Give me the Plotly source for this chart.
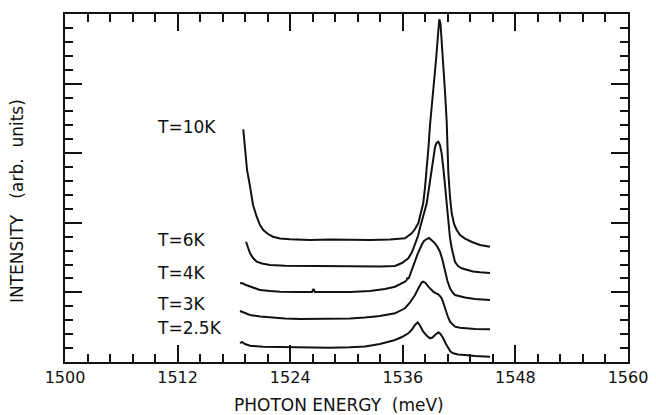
import plotly.graph_objects as go

# ---------------- data ----------------
e_10k = [1519.00, 1519.18, 1519.40, 1519.72, 1520.04, 1520.43, 1520.78, 1521.13, 1521.63, 1522.17,
         1522.91, 1523.98, 1526.11, 1528.24, 1530.37, 1532.50, 1534.64, 1535.70, 1536.23, 1536.95,
         1537.30, 1537.65, 1537.94, 1538.18, 1538.37, 1538.55, 1538.74, 1538.90, 1539.11, 1539.32,
         1539.54, 1539.75, 1539.89, 1540.02, 1540.18, 1540.34, 1540.50, 1540.68, 1540.76, 1540.85,
         1541.03, 1541.21, 1541.46, 1541.74, 1542.10, 1542.63, 1543.37, 1544.23, 1545.29]
i_10k = [3.343, 3.046, 2.759, 2.519, 2.256, 2.088, 1.968, 1.897, 1.839, 1.800,
         1.774, 1.763, 1.753, 1.760, 1.753, 1.753, 1.760, 1.767, 1.777, 1.849,
         1.911, 1.993, 2.141, 2.284, 2.514, 2.759, 3.089, 3.405, 3.693, 3.937,
         4.339, 4.698, 4.924, 4.856, 4.555, 4.195, 3.879, 3.448, 3.046, 2.730,
         2.371, 2.141, 1.983, 1.897, 1.825, 1.774, 1.724, 1.681, 1.657]

e_6k = [1519.29, 1519.50, 1519.72, 1520.04, 1520.43, 1520.99, 1521.85, 1523.45, 1525.04, 1528.24,
        1531.44, 1533.57, 1535.17, 1535.91, 1536.59, 1536.98, 1537.30, 1537.62, 1537.83, 1538.15,
        1538.55, 1538.79, 1539.08, 1539.27, 1539.43, 1539.59, 1539.79, 1539.96, 1540.14, 1540.34,
        1540.50, 1540.68, 1540.85, 1541.03, 1541.21, 1541.38, 1541.56, 1541.88, 1542.28, 1542.63,
        1543.48, 1544.23, 1545.29]
i_6k = [1.728, 1.638, 1.562, 1.494, 1.441, 1.415, 1.394, 1.382, 1.379, 1.372,
        1.372, 1.372, 1.379, 1.422, 1.490, 1.580, 1.695, 1.810, 1.925, 2.098,
        2.280, 2.500, 2.759, 2.960, 3.082, 3.147, 3.165, 3.118, 2.998, 2.759,
        2.519, 2.270, 2.040, 1.782, 1.638, 1.523, 1.441, 1.379, 1.346, 1.332,
        1.300, 1.289, 1.279]

e_4k = [1518.65, 1518.97, 1519.29, 1519.72, 1520.25, 1520.78, 1521.85, 1522.91, 1525.04, 1526.32,
        1526.48, 1526.64, 1528.24, 1530.37, 1532.50, 1534.10, 1535.17, 1535.91, 1536.23, 1536.39,
        1536.50, 1536.61, 1536.87, 1537.30, 1537.62, 1538.01, 1538.26, 1538.55, 1538.79, 1539.11,
        1539.43, 1539.70, 1539.96, 1540.23, 1540.50, 1540.76, 1541.03, 1541.30, 1541.56, 1542.10,
        1542.63, 1543.69, 1545.29]
i_4k = [1.135, 1.128, 1.106, 1.082, 1.056, 1.034, 1.020, 1.010, 1.006, 1.006,
        1.049, 1.006, 1.006, 1.006, 1.020, 1.049, 1.082, 1.128, 1.154, 1.171,
        1.214, 1.193, 1.293, 1.441, 1.566, 1.681, 1.739, 1.767, 1.782, 1.746,
        1.705, 1.652, 1.585, 1.466, 1.297, 1.164, 1.059, 0.999, 0.963, 0.941,
        0.927, 0.905, 0.891]

e_3k = [1518.65, 1519.18, 1519.72, 1520.78, 1521.85, 1523.45, 1525.04, 1528.24, 1530.37, 1531.97,
        1533.57, 1535.17, 1536.23, 1536.77, 1537.30, 1537.62, 1537.83, 1538.01, 1538.18, 1538.42,
        1538.72, 1539.00, 1539.25, 1539.54, 1539.79, 1539.96, 1540.14, 1540.31, 1540.50, 1540.76,
        1541.03, 1541.30, 1541.56, 1542.10, 1542.63, 1543.69, 1545.29]
i_3k = [0.733, 0.704, 0.675, 0.654, 0.642, 0.625, 0.618, 0.618, 0.625, 0.639,
        0.661, 0.700, 0.772, 0.855, 0.963, 1.049, 1.106, 1.142, 1.154, 1.135,
        1.082, 1.042, 1.010, 0.987, 0.973, 0.948, 0.915, 0.855, 0.772, 0.668,
        0.579, 0.534, 0.507, 0.491, 0.484, 0.474, 0.470]

e_2p5k = [1518.65, 1518.86, 1519.18, 1519.72, 1521.10, 1522.91, 1525.04, 1528.24, 1530.37, 1531.97,
          1533.57, 1534.64, 1535.17, 1535.91, 1536.59, 1536.98, 1537.30, 1537.59, 1537.83, 1538.18,
          1538.53, 1538.90, 1539.16, 1539.43, 1539.79, 1540.02, 1540.31, 1540.60, 1540.85, 1541.08,
          1541.38, 1541.88, 1542.63, 1543.69, 1545.29]
i_2p5k = [0.269, 0.287, 0.259, 0.234, 0.220, 0.216, 0.208, 0.205, 0.211, 0.223,
          0.259, 0.295, 0.316, 0.359, 0.412, 0.467, 0.532, 0.570, 0.524, 0.435,
          0.381, 0.341, 0.352, 0.388, 0.427, 0.402, 0.341, 0.259, 0.197, 0.151,
          0.125, 0.108, 0.101, 0.086, 0.076]

series_labels = ["T=10K", "T=6K", "T=4K", "T=3K", "T=2.5K"]
x_tick_vals = [1500, 1512, 1524, 1536, 1548, 1560]
x_tick_labels = ["1500", "1512", "1524", "1536", "1548", "1560"]
x_minor_step = 2.4
y_major_vals = [0, 1, 2, 3, 4, 5]
y_minor_step = 0.2
x_title = "PHOTON ENERGY  (meV)"
y_title = "INTENSITY   (arb.  units)"

# ---------------- figure ----------------
INK = "#111111"
FONT = "DejaVu Sans, Liberation Sans, sans-serif"
XR = [1500, 1560]
YR = [0, 5]

x_minor_vals = [round(XR[0] + x_minor_step * k, 3) for k in range(26)]
y_minor_vals = [round(y_minor_step * k, 3) for k in range(26)]

fig = go.Figure()
for ex, iy in [(e_10k, i_10k), (e_6k, i_6k), (e_4k, i_4k), (e_3k, i_3k), (e_2p5k, i_2p5k)]:
    fig.add_trace(go.Scatter(x=ex, y=iy, mode="lines",
                             line=dict(color=INK, width=2), showlegend=False))

# invisible helper traces that activate the overlay axes carrying the minor ticks
for xa, ya in [("x2", "y2"), ("x3", "y3")]:
    fig.add_trace(go.Scatter(x=XR, y=YR, xaxis=xa, yaxis=ya, mode="markers",
                             marker=dict(opacity=0), showlegend=False))

label_x = 1509.6
label_y = [3.376, 1.753, 1.279, 0.833, 0.489]
for txt, ly in zip(series_labels, label_y):
    fig.add_annotation(x=label_x, y=ly, xref="x", yref="y", text=txt,
                       showarrow=False, xanchor="left", yanchor="middle",
                       font=dict(family=FONT, size=17, color=INK))

fig.add_annotation(x=0.4867, y=-0.124, xref="paper", yref="paper",
                   text=x_title, showarrow=False,
                   xanchor="center", yanchor="middle",
                   font=dict(family=FONT, size=17, color=INK))
fig.add_annotation(x=-0.0853, y=0.4626, xref="paper", yref="paper",
                   text=y_title, showarrow=False, textangle=-90,
                   xanchor="center", yanchor="middle",
                   font=dict(family=FONT, size=17, color=INK))


def minor_axis(vals, rng, side, overlay, anchor):
    return dict(range=rng, overlaying=overlay, anchor=anchor, side=side,
                tickvals=vals, showticklabels=False,
                ticks="inside", ticklen=8, tickwidth=2, tickcolor=INK,
                showgrid=False, zeroline=False)


fig.update_layout(
    width=656, height=415, margin=dict(l=65, r=28, t=14, b=53),
    plot_bgcolor="white", showlegend=False,
    xaxis=dict(range=XR, tickmode="array", tickvals=x_tick_vals,
               ticktext=x_tick_labels,
               ticks="inside", ticklen=17, tickwidth=1.5, tickcolor=INK,
               showline=True, linewidth=2, linecolor=INK, mirror="ticks",
               showgrid=False, zeroline=False, automargin=False,
               tickfont=dict(family=FONT, size=16, color=INK),
               minor=dict(ticks="inside", ticklen=8, tickwidth=2, tickcolor=INK,
                          tickvals=x_minor_vals)),
    yaxis=dict(range=YR, dtick=1, showticklabels=False, automargin=False,
               ticks="inside", ticklen=17, tickwidth=1.5, tickcolor=INK,
               showline=True, linewidth=2, linecolor=INK, mirror="ticks",
               showgrid=False, zeroline=False,
               minor=dict(ticks="inside", ticklen=8, tickwidth=2, tickcolor=INK,
                          tickvals=y_minor_vals)),
    xaxis2=minor_axis(x_minor_vals, XR, "bottom", "x", "y2"),
    yaxis2=minor_axis(y_minor_vals, YR, "left", "y", "x2"),
    xaxis3=minor_axis(x_minor_vals, XR, "top", "x", "y3"),
    yaxis3=minor_axis(y_minor_vals, YR, "right", "y", "x3"),
)

fig.write_html("out.html")
